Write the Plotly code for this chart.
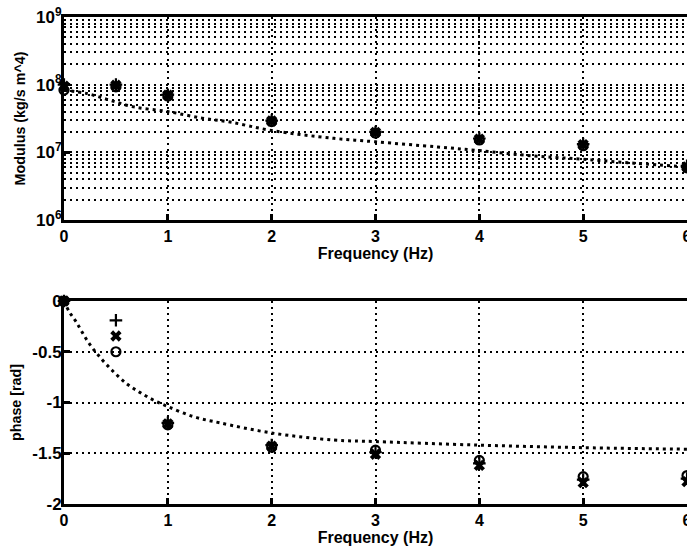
import plotly.graph_objects as go

# ---- measured data: three repeated measurements (o, x, +) ----
freq = [0, 0.5, 1, 2, 3, 4, 5, 6]

mod_o = [8.3e7, 9.3e7, 6.8e7, 2.85e7, 1.92e7, 1.52e7, 1.25e7, 5.9e6]
mod_x = [9.5e7, 9.8e7, 7.0e7, 2.9e7, 1.97e7, 1.57e7, 1.3e7, 6.1e6]
mod_p = [1.0e8, 1.0e8, 7.1e7, 2.95e7, 2.0e7, 1.6e7, 1.32e7, 6.3e6]

ph_o = [0, -0.50, -1.22, -1.44, -1.47, -1.57, -1.73, -1.72]
ph_x = [0, -0.345, -1.21, -1.43, -1.51, -1.62, -1.79, -1.78]
ph_p = [0, -0.19, -1.20, -1.42, -1.49, -1.60, -1.76, -1.75]

# ---- model curve ----
model_f_mod = [0, 0.22, 0.44, 0.67, 1.0, 1.33, 1.6, 2.0, 2.6, 3.0, 3.6, 4.0, 4.5, 5.0, 5.5, 6.0]
model_mod = [8.3e7, 7.4e7, 5.9e7, 4.7e7, 4.0e7, 3.2e7, 2.8e7, 2.1e7, 1.61e7, 1.43e7,
             1.2e7, 1.06e7, 8.9e6, 7.9e6, 6.9e6, 6.1e6]

model_f_ph = [0, 0.05, 0.12, 0.23, 0.36, 0.49, 0.61, 0.73, 0.86, 1.0, 1.25, 1.5, 2.0,
              2.6, 3.0, 4.0, 5.0, 6.0]
model_ph = [0, -0.105, -0.21, -0.40, -0.57, -0.71, -0.82, -0.90, -0.975, -1.04, -1.14,
            -1.20, -1.30, -1.37, -1.385, -1.42, -1.445, -1.46]

# ---- tick labels ----
x_ticks = [0, 1, 2, 3, 4, 5, 6]
mod_ticks = [1e6, 1e7, 1e8, 1e9]
mod_ticktext = ["10<sup>6</sup>", "10<sup>7</sup>", "10<sup>8</sup>", "10<sup>9</sup>"]
ph_ticks = [0, -0.5, -1, -1.5, -2]
ph_ticktext = ["0", "-0.5", "-1", "-1.5", "-2"]

FONT = "Liberation Sans"
BLACK = "black"

fig = go.Figure()


def add_measurements(xa, ya, ys_o, ys_x, ys_p):
    fig.add_trace(go.Scatter(x=freq, y=ys_o, mode="markers", xaxis=xa, yaxis=ya,
                             cliponaxis=False,
                             marker=dict(symbol="circle-open", size=9, color=BLACK,
                                         line=dict(width=2.2, color=BLACK))))
    fig.add_trace(go.Scatter(x=freq, y=ys_x, mode="markers", xaxis=xa, yaxis=ya,
                             cliponaxis=False,
                             marker=dict(symbol="x", size=10, color=BLACK,
                                         line=dict(width=0))))
    fig.add_trace(go.Scatter(x=freq, y=ys_p, mode="markers", xaxis=xa, yaxis=ya,
                             cliponaxis=False,
                             marker=dict(symbol="cross-thin", size=9, color=BLACK,
                                         line=dict(width=2.2, color=BLACK))))


# top: modulus
fig.add_trace(go.Scatter(x=model_f_mod, y=model_mod, mode="lines", xaxis="x", yaxis="y",
                         line=dict(color=BLACK, width=3, dash="3px,4px", shape="spline")))
add_measurements("x", "y", mod_o, mod_x, mod_p)

# bottom: phase
fig.add_trace(go.Scatter(x=model_f_ph, y=model_ph, mode="lines", xaxis="x2", yaxis="y2",
                         line=dict(color=BLACK, width=3, dash="3px,4px", shape="spline")))
add_measurements("x2", "y2", ph_o, ph_x, ph_p)

xtickfont = dict(family=FONT, size=16, color=BLACK, weight="bold")
ytickfont = dict(family=FONT, size=17, color=BLACK, weight="bold")
xtitlefont = dict(family=FONT, size=16, color=BLACK, weight="bold")
ytitlefont = dict(family=FONT, size=14.3, color=BLACK, weight="bold")
grid = dict(showgrid=True, gridcolor=BLACK, gridwidth=1.5, griddash="2px,4px")

xcommon = dict(range=[0, 6], tickvals=x_ticks, ticks="inside", ticklen=6, tickwidth=2.5,
               tickcolor=BLACK, showline=True, linecolor=BLACK, linewidth=3, mirror=True,
               zeroline=False, tickfont=xtickfont, automargin=False,
               ticklabeloverflow="allow",
               title=dict(text="Frequency (Hz)", font=xtitlefont, standoff=1), **grid)

ycommon = dict(ticks="inside", ticklen=6, tickwidth=2.5, tickcolor=BLACK, showline=True,
               linecolor=BLACK, linewidth=3, mirror=False, zeroline=False,
               tickfont=ytickfont, automargin=False, ticklabelstandoff=-4,
               ticklabeloverflow="allow")

fig.update_layout(
    width=687, height=550,
    margin=dict(l=64, r=0, t=17, b=46),
    paper_bgcolor="white", plot_bgcolor="white",
    showlegend=False,
    xaxis=dict(domain=[0, 1], anchor="y", **xcommon),
    yaxis=dict(domain=[0.5832, 1], anchor="x", type="log", range=[6, 9],
               tickvals=mod_ticks, ticktext=mod_ticktext,
               minor=dict(tickvals=[m * 10 ** e for e in (6, 7, 8) for m in range(2, 10)],
                          showgrid=True, gridcolor=BLACK, gridwidth=1.5,
                          griddash="2px,4px", ticks=""),
               title=dict(text="Modulus (kg/s m^4)", font=ytitlefont, standoff=8),
               **ycommon, **grid),
    xaxis2=dict(domain=[0, 1], anchor="y2", **xcommon),
    yaxis2=dict(domain=[0, 0.4168], anchor="x2", range=[-2, 0],
                tickvals=ph_ticks, ticktext=ph_ticktext,
                title=dict(text="phase [rad]", font=ytitlefont, standoff=8),
                **ycommon, **grid),
)

fig.write_html("out.html")
